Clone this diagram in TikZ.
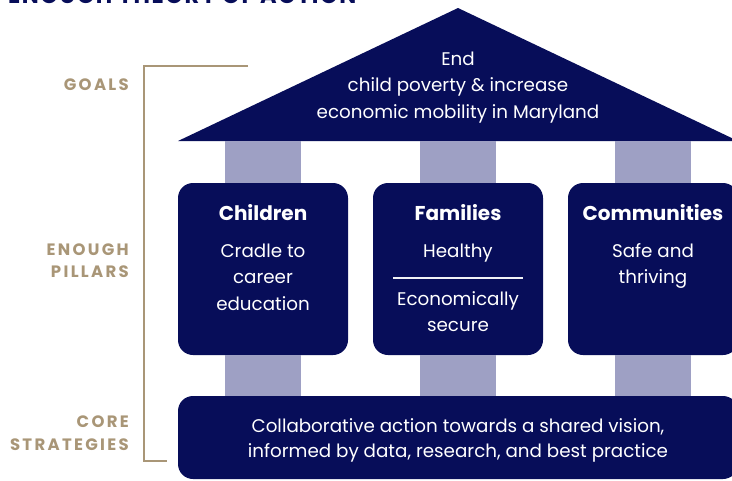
\documentclass[tikz,border=0pt]{standalone}
\usepackage{fontspec}
\setmainfont{Poppins}
\usetikzlibrary{positioning}
\definecolor{navy}{HTML}{070D59}
\definecolor{pillargrey}{HTML}{9EA0C4}
\definecolor{tan}{HTML}{A99677}
\tikzset{
    roof/.style={
    fill=navy
    },
    pillarbox/.style={
    rectangle,rounded corners=15pt,fill=navy,minimum width=170pt,minimum height=172pt
    },
    basebar/.style={
    rectangle,rounded corners=15pt,fill=navy,minimum width=560pt,minimum height=83pt
    },
    column/.style={
    draw=pillargrey,line width=76pt
    },
    head/.style={
    text=white,font=\fontsize{20}{24}\selectfont\bfseries,text height=14pt,text depth=5pt,inner sep=0pt
    },
    body/.style={
    text=white,font=\fontsize{18.3}{22}\selectfont,text height=14pt,text depth=5pt,inner sep=0pt
    },
    level/.style={
    anchor=base east,text=tan,inner sep=0pt,
    font=\fontsize{16.5}{18}\selectfont\bfseries\addfontfeatures{LetterSpace=14}
    },
    bracket/.style={
    draw=tan,line width=2.5pt
    },
    divider/.style={
    draw=white!85!pillargrey,line width=1.3pt
    },
}

\begin{document}
\begin{tikzpicture}[x=1pt,y=-1pt,node distance=26.5pt,on grid]
   \clip (0,0) rectangle (732,480);
   % title, cut off at the top
   \node[anchor=base west,inner sep=0pt,text=navy,font=\fontsize{22.5}{24}\selectfont\bfseries\addfontfeatures{LetterSpace=7}] (title) at (8,3.5) {ENOUGH THEORY OF ACTION};

   % roof
   \coordinate (apex) at (458,8);
   \coordinate (roofleft) at (178,141);
   \coordinate (roofright) at (738,141);
   \fill[roof] (apex) -- (roofleft) -- (roofright) -- cycle;
   \node[body] (goalA) at (458,60.5) {End};
   \node[body] (goalB) [below=of goalA] {child poverty \& increase};
   \node[body] (goalC) [below=of goalB] {economic mobility in Maryland};

   % pillars
   \node[pillarbox] (children) at (263,269) {};
   \node[pillarbox] (families) at (458,269) {};
   \node[pillarbox] (communities) at (653,269) {};
   \node[basebar] (strategies) at (458,437.5) {};

   \foreach \p in {children,families,communities}{
     \draw[column] (\p.north) -- (\p.north |- roofleft);
     \draw[column] (\p.south) -- (\p.south |- strategies.north);
   }

   \node[head] (childhead) at (263,215.5) {Children};
   \node[body] (childA) [below=37pt of childhead] {Cradle to};
   \node[body] (childB) [below=of childA] {career};
   \node[body] (childC) [below=of childB] {education};

   \node[head] (famhead) at (458,215.5) {Families};
   \node[body] (famA) [below=37pt of famhead] {Healthy};
   \node[body] (famB) [below=48pt of famA] {Economically};
   \node[body] (famC) [below=of famB] {secure};
   \draw[divider] (393,278) -- (523,278);

   \node[head] (comhead) at (653,215.5) {Communities};
   \node[body] (comA) [below=37pt of comhead] {Safe and};
   \node[body] (comB) [below=of comA] {thriving};

   \node[body] (stratA) at (458,427.5) {Collaborative action towards a shared vision,};
   \node[body] (stratB) [below=25.5pt of stratA] {informed by data, research, and best practice};

   % levels on the left
   \draw[bracket] (248,66) -- (144,66) -- (144,461) -- (167,461);
   \node[level] (goals) at (129,90) {GOALS};
   \node[level] (enough) at (129,255) {ENOUGH};
   \node[level] (pillars) at (129,277.7) {PILLARS};
   \node[level] (core) at (129,427.7) {CORE};
   \node[level] (strat) at (129,450.7) {STRATEGIES};
\end{tikzpicture}
\end{document}
